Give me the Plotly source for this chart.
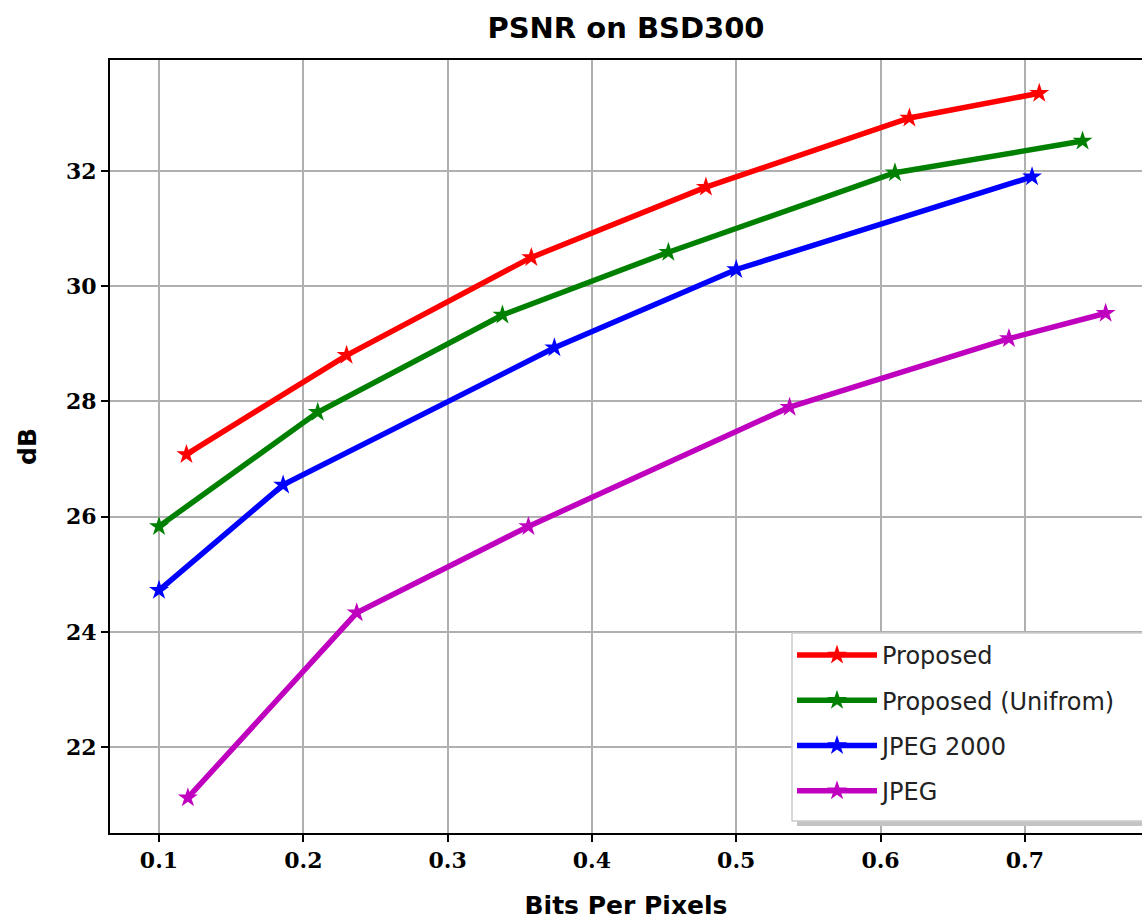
import plotly.graph_objects as go

series_names = ["Proposed", "Proposed (Unifrom)", "JPEG 2000", "JPEG"]
series_colors = ["#ff0000", "#008000", "#0000ff", "#bf00bf"]

bpp_proposed = [0.119, 0.230, 0.358, 0.479, 0.620, 0.710]
psnr_proposed = [27.08, 28.80, 30.50, 31.72, 32.92, 33.35]

bpp_uniform = [0.100, 0.210, 0.338, 0.453, 0.610, 0.740]
psnr_uniform = [25.83, 27.81, 29.50, 30.59, 31.97, 32.52]

bpp_jpeg2000 = [0.100, 0.186, 0.374, 0.500, 0.705]
psnr_jpeg2000 = [24.72, 26.55, 28.93, 30.29, 31.90]

bpp_jpeg = [0.120, 0.237, 0.356, 0.537, 0.689, 0.756]
psnr_jpeg = [21.12, 24.33, 25.83, 27.90, 29.09, 29.53]

x_ticks = [0.1, 0.2, 0.3, 0.4, 0.5, 0.6, 0.7]
y_ticks = [22, 24, 26, 28, 30, 32]

xs = [bpp_proposed, bpp_uniform, bpp_jpeg2000, bpp_jpeg]
ys = [psnr_proposed, psnr_uniform, psnr_jpeg2000, psnr_jpeg]

W, H = 1142, 921
L, T, B = 110, 60, 921 - 833
PW, PH = W - L, H - T - B


def px_to_paper_x(px):
    return (px - L) / PW


def px_to_paper_y(py):
    return (H - B - py) / PH


fig = go.Figure()
for i, (name, color, x, y) in enumerate(zip(series_names, series_colors, xs, ys)):
    fig.add_trace(go.Scatter(
        x=x, y=y, name=name, mode="lines+markers", legendgroup=f"g{i}",
        line=dict(color=color, width=5.5),
        marker=dict(symbol="star", size=15, color=color),
    ))

tick_font = dict(family="DejaVu Serif", size=22, color="black", weight="bold")

fig.update_layout(
    width=W, height=H,
    margin=dict(l=L, r=0, t=T, b=B),
    paper_bgcolor="white", plot_bgcolor="white",
    title=dict(text="PSNR on BSD300", x=626 / W, xanchor="center",
               y=1 - 28 / H, yanchor="middle",
               font=dict(family="DejaVu Sans", size=29, color="black", weight="bold")),
    xaxis=dict(range=[0.06604, 0.7812], tickvals=x_ticks, ticktext=[str(v) for v in x_ticks],
               showgrid=True, gridcolor="#b0b0b0", gridwidth=1.5,
               showline=True, linecolor="black", linewidth=2, mirror=True,
               ticks="outside", ticklen=7, tickwidth=1.5, tickcolor="black",
               tickfont=tick_font, zeroline=False,
               title=dict(text="Bits Per Pixels", standoff=24,
                          font=dict(family="DejaVu Sans", size=25, color="black", weight="bold"))),
    yaxis=dict(range=[20.507, 33.927], tickvals=y_ticks, ticktext=[str(v) for v in y_ticks],
               showgrid=True, gridcolor="#b0b0b0", gridwidth=1.5,
               showline=True, linecolor="black", linewidth=2, mirror=False,
               ticks="outside", ticklen=7, tickwidth=1.5, tickcolor="black",
               tickfont=tick_font, zeroline=False,
               title=dict(text="dB", standoff=22,
                          font=dict(family="DejaVu Sans", size=25, color="black", weight="bold"))),
    legend=dict(x=px_to_paper_x(792), y=px_to_paper_y(633), xanchor="left", yanchor="top",
                bgcolor="rgba(0,0,0,0)", borderwidth=0,
                font=dict(family="DejaVu Sans", size=24, color="#222222"),
                itemwidth=80, tracegroupgap=11),
    showlegend=True,
)

# legend shadow and frame
fig.add_shape(type="rect", xref="paper", yref="paper",
              x0=px_to_paper_x(797), x1=px_to_paper_x(1150),
              y0=px_to_paper_y(826), y1=px_to_paper_y(638),
              fillcolor="#c4c4c4", line=dict(width=0), layer="above")
fig.add_shape(type="rect", xref="paper", yref="paper",
              x0=px_to_paper_x(792), x1=px_to_paper_x(1150),
              y0=px_to_paper_y(821), y1=px_to_paper_y(633),
              fillcolor="white", line=dict(color="#cccccc", width=1.5), layer="above")

fig.write_html(
    "out.html",
    config={"displayModeBar": False},
    post_script="document.body.style.margin='0';document.body.style.overflow='hidden';",
)
